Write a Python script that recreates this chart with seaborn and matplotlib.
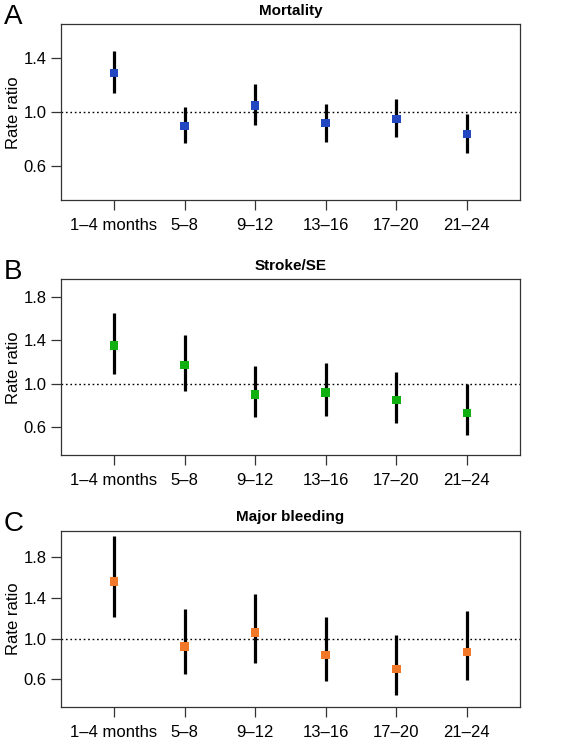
"""Rate ratios by follow-up period for three outcomes."""

import matplotlib
matplotlib.use("Agg")
import matplotlib.pyplot as plt
import pandas as pd
import seaborn as sns

periods = ["1–4 months", "5–8", "9–12", "13–16", "17–20", "21–24"]

mortality_rr = [1.29, 0.90, 1.05, 0.92, 0.95, 0.84]
mortality_lo = [1.14, 0.77, 0.91, 0.78, 0.82, 0.70]
mortality_hi = [1.45, 1.04, 1.21, 1.06, 1.10, 0.99]

stroke_rr = [1.35, 1.17, 0.90, 0.92, 0.85, 0.73]
stroke_lo = [1.09, 0.93, 0.69, 0.70, 0.64, 0.53]
stroke_hi = [1.65, 1.45, 1.16, 1.19, 1.11, 1.00]

bleeding_rr = [1.56, 0.92, 1.06, 0.84, 0.70, 0.87]
bleeding_lo = [1.21, 0.65, 0.76, 0.58, 0.45, 0.59]
bleeding_hi = [2.01, 1.29, 1.44, 1.21, 1.04, 1.27]

titles = ["Mortality", "Stroke/SE", "Major bleeding"]
letters = ["A", "B", "C"]
colors = ["#2347c0", "#10b010", "#f07828"]
ylims = [(0.35, 1.65), (0.34, 1.96), (0.33, 2.06)]
yticks = [[0.6, 1.0, 1.4], [0.6, 1.0, 1.4, 1.8], [0.6, 1.0, 1.4, 1.8]]

sns.set_style("ticks")
plt.rcParams["font.family"] = ["Liberation Sans", "DejaVu Sans"]
plt.rcParams["text.color"] = "black"
plt.rcParams["axes.labelcolor"] = "black"
plt.rcParams["xtick.labelcolor"] = "black"
plt.rcParams["ytick.labelcolor"] = "black"

fig = plt.figure(figsize=(5.7, 7.39), dpi=100)
bottoms = [0.729, 0.384, 0.0437]
panels = [
    (mortality_rr, mortality_lo, mortality_hi),
    (stroke_rr, stroke_lo, stroke_hi),
    (bleeding_rr, bleeding_lo, bleeding_hi),
]

for i, (rr, lo, hi) in enumerate(panels):
    ax = fig.add_axes([0.107, bottoms[i], 0.805, 0.238])
    df = pd.DataFrame({"period": periods, "rr": rr, "lo": lo, "hi": hi})
    ax.axhline(1.0, color="black", linestyle=(0, (1.2, 2)), linewidth=1.0, zorder=1)
    ax.vlines(df["period"], df["lo"], df["hi"], color="black", linewidth=2.3, zorder=2)
    sns.scatterplot(data=df, x="period", y="rr", marker="s", s=38, color=colors[i],
                    edgecolor="none", zorder=3, ax=ax)
    ax.set_xlim(-0.75, 5.75)
    ax.set_ylim(*ylims[i])
    ax.set_yticks(yticks[i])
    ax.set_yticklabels([f"{t:.1f}" for t in yticks[i]])
    ax.set_xlabel("")
    ax.set_ylabel("Rate ratio", fontsize=12, labelpad=2)
    ax.set_title(titles[i], fontsize=11, fontweight="bold", pad=7)
    ax.tick_params(axis="both", labelsize=12, length=7, width=0.9, color="#333333")
    ax.tick_params(axis="x", pad=6)
    for side in ax.spines.values():
        side.set_visible(True)
        side.set_linewidth(0.9)
        side.set_color("#333333")
    ax.text(-0.125, 1.0, letters[i], transform=ax.transAxes, fontsize=20,
            ha="left", va="baseline")

fig.savefig("out.png", dpi=100)
